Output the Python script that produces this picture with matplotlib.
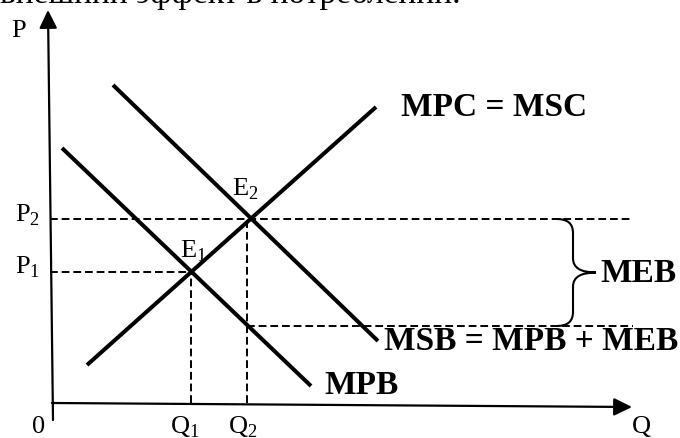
import matplotlib
matplotlib.use("Agg")
import matplotlib.pyplot as plt
from matplotlib.path import Path
from matplotlib.patches import PathPatch

plt.rcParams['font.family'] = ['Liberation Serif', 'DejaVu Serif']
plt.rcParams['mathtext.fontset'] = 'custom'
plt.rcParams['mathtext.rm'] = 'Liberation Serif'

# curves (Q, P), origin at the axes corner
mpb_q = [12, 261]
mpb_p = [255, 17]
msb_q = [63, 328]
msb_p = [318, 62]
mpc_q = [37, 326]
mpc_p = [38, 296]

# equilibria and guide levels
q1, p1 = 141, 131
q2, p2 = 197, 184
meb_low = 77
guide_end = 583

# brace for MEB
brace_left, brace_stem, brace_tip = 507, 523, 546

# axes ends
yaxis_q = [3, -2]
yaxis_p = [-17, 393]
xaxis_q = [2, 582]
xaxis_p = [0, -4]

curve_labels = ["MPC = MSC", "MEB", "MSB = MPB + MEB", "MPB"]
curve_label_q = [351, 550, 334, 274]
curve_label_p = [295, 130, 61, 17]

small_labels = ["P", r"P$_\mathrm{2}$", r"P$_\mathrm{1}$", r"E$_\mathrm{2}$", r"E$_\mathrm{1}$",
                "0", r"Q$_\mathrm{1}$", r"Q$_\mathrm{2}$", "Q"]
small_q = [-39, -35, -35, 182, 130, -18, 120, 178, 582]
small_p = [366, 182, 129, 208, 145, -30, -30, -30, -30]

title_text = "внешний эффект в потреблении."

fig = plt.figure(figsize=(6.8, 4.38), dpi=100)
ax = fig.add_axes([0, 0, 1, 1])
ax.set_xlim(-50, 630)
ax.set_ylim(-35, 403)
ax.axis('off')

# axes with arrows
arrow = dict(arrowstyle='-|>,head_length=0.55,head_width=0.27', color='black',
             lw=1.6, mutation_scale=20, shrinkA=0, shrinkB=0)
ax.annotate('', xy=(yaxis_q[1], yaxis_p[1]), xytext=(yaxis_q[0], yaxis_p[0]), arrowprops=arrow)
ax.annotate('', xy=(xaxis_q[1], xaxis_p[1]), xytext=(xaxis_q[0], xaxis_p[0]), arrowprops=arrow)

# curves
for qs, ps in [(mpb_q, mpb_p), (msb_q, msb_p), (mpc_q, mpc_p)]:
    ax.plot(qs, ps, color='black', lw=2.9, solid_capstyle='butt')

# dashed guides
dash = dict(color='black', lw=1.4, dashes=(4, 2))
ax.plot([0, guide_end], [p2, p2], **dash)
ax.plot([0, q1], [p1, p1], **dash)
ax.plot([q1, q1], [0, p1], **dash)
ax.plot([q2, q2], [0, p2], **dash)
ax.plot([q2, guide_end], [meb_low, meb_low], **dash)

# curly brace
mid = (p2 + meb_low) / 2
verts = [(brace_left, p2), (brace_stem, p2), (brace_stem, p2 - 14),
         (brace_stem, mid + 14), (brace_stem, mid), (brace_tip, mid),
         (brace_stem, mid), (brace_stem, mid - 14),
         (brace_stem, meb_low + 14), (brace_stem, meb_low), (brace_left, meb_low)]
codes = [Path.MOVETO, Path.CURVE3, Path.CURVE3,
         Path.LINETO, Path.CURVE3, Path.CURVE3,
         Path.CURVE3, Path.CURVE3,
         Path.LINETO, Path.CURVE3, Path.CURVE3]
ax.add_patch(PathPatch(Path(verts, codes), fill=False, lw=1.5, color='black'))

for s, q, p in zip(curve_labels, curve_label_q, curve_label_p):
    ax.text(q, p, s, fontsize=24, fontweight='bold', ha='left', va='center')

for s, q, p in zip(small_labels, small_q, small_p):
    ax.text(q, p, s, fontsize=19, ha='left', va='baseline')

# caption line cut by the top edge, as in the source image
ax.text(-50, 400.5, title_text, fontsize=24, ha='left', va='baseline')

fig.savefig("out.png", dpi=100)
